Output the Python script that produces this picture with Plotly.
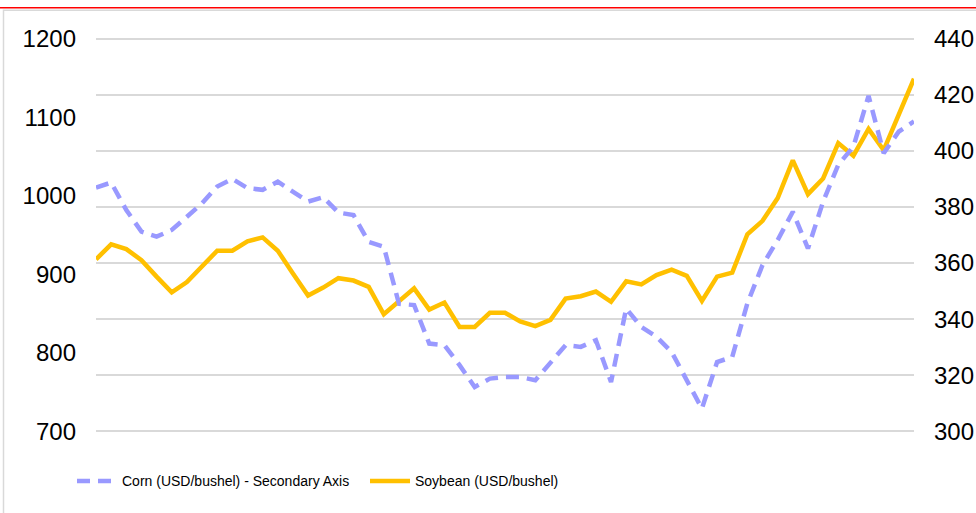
import plotly.graph_objects as go

# period index (55 observations, no x labels shown in the reference)
periods = list(range(55))

# Soybean (left axis)
soybean = [919, 938, 932, 918, 897, 877, 890, 909, 930, 930,
           942, 947, 930, 901, 873, 883, 895, 892, 884, 849,
           865, 882, 855, 864, 833, 833, 851, 851, 840, 834,
           842, 869, 872, 878, 865, 891, 887, 899, 906, 898,
           866, 897, 902, 951, 968, 997, 1045, 1002, 1022, 1067,
           1051, 1085, 1058, 1103, 1149]

# Corn (secondary / right axis)
corn = [386.9, 388.7, 378.9, 371.2, 369.4, 371.8, 376.5, 381.3, 387.3, 390.0,
        386.7, 386.1, 389.0, 385.5, 381.9, 383.5, 378.0, 377.1, 367.5, 365.8,
        345.5, 345.0, 331.3, 330.7, 323.6, 315.8, 318.8, 319.4, 319.4, 318.2,
        324.7, 330.7, 330.1, 332.5, 317.6, 343.8, 337.2, 333.7, 328.3, 318.2,
        308.1, 324.7, 326.5, 345.6, 359.3, 368.2, 378.3, 365.2, 381.9, 395.0,
        401.5, 419.6, 399.2, 406.9, 410.5]

left_ticks = [700, 800, 900, 1000, 1100, 1200]
right_ticks = [300, 320, 340, 360, 380, 400, 420, 440]

FONT = "Liberation Sans, Arial, sans-serif"

fig = go.Figure()
fig.add_trace(go.Scatter(
    x=periods, y=corn, name="Corn (USD/bushel) - Secondary Axis",
    mode="lines", yaxis="y2",
    line=dict(color="#9999FF", width=4.5, dash="13px,8px"),
))
fig.add_trace(go.Scatter(
    x=periods, y=soybean, name="Soybean (USD/bushel)",
    mode="lines", yaxis="y",
    line=dict(color="#FFC000", width=4.5),
))

# small padding so the edge gridlines (300 / 440) are drawn (> 1 px inside)
pad_r = 0.6
pad_l = pad_r * 500 / 140
pad_px = pad_r * 2.8

T0, B0 = 39.0, 431.0            # pixel rows of the 440 and 300 gridlines
top_m = T0 - pad_px
bot_m = 513 - (B0 + pad_px)
PW, L = 818, 96
PH = (B0 + pad_px) - top_m
B = B0 + pad_px                 # pixel row of the plot bottom


def py(pix):
    return (B - pix) / PH


# frame: red top rule and light gray chart border
fig.add_shape(type="line", xref="paper", yref="paper",
              x0=-0.2, x1=1.2, y0=py(8), y1=py(8),
              line=dict(color="#FF0000", width=1.5))
fig.add_shape(type="rect", xref="paper", yref="paper",
              x0=(3.5 - L) / PW, x1=1.2, y0=-0.3, y1=py(10.5),
              line=dict(color="#D9D9D9", width=1.5), layer="below")

fig.update_layout(
    width=976, height=513,
    margin=dict(l=96, r=62, t=top_m, b=bot_m, autoexpand=False),
    paper_bgcolor="white", plot_bgcolor="white",
    font=dict(family=FONT, color="#000000", size=24),
    showlegend=True,
    legend=dict(orientation="h", x=(72 - L) / PW, xanchor="left",
                y=py(481), yanchor="middle",
                font=dict(family=FONT, size=14, color="#000000"),
                itemwidth=40, entrywidth=238, bgcolor="rgba(0,0,0,0)"),
    xaxis=dict(visible=False, range=[0, 54], automargin=False),
    yaxis=dict(range=[700 - pad_l, 1200 + pad_l], tickvals=left_ticks, showgrid=False,
               zeroline=False, showline=False, ticks="", ticklabelstandoff=19,
               automargin=False, tickfont=dict(size=24)),
    yaxis2=dict(range=[300 - pad_r, 440 + pad_r], tickvals=right_ticks,
                overlaying="y", side="right",
                showgrid=True, gridcolor="#D9D9D9", gridwidth=1.5,
                zeroline=False, showline=False, ticks="", ticklabelstandoff=19,
                automargin=False, tickfont=dict(size=24)),
)

fig.write_html("out.html", config={"displayModeBar": False},
               post_script="document.body.style.margin='0';document.body.style.padding='0';")
